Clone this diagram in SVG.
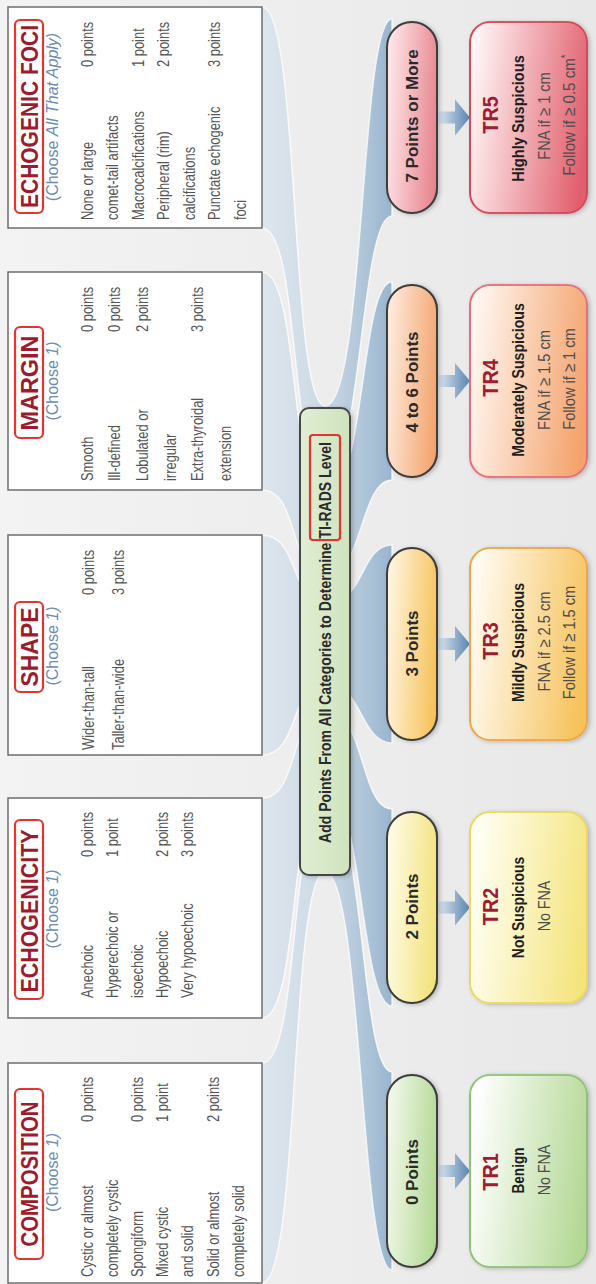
<svg xmlns="http://www.w3.org/2000/svg" width="596" height="1284" viewBox="0 0 596 1284">
<defs>
<style>
.bx{fill:#ffffff;stroke:#6e6e6e;stroke-width:1.5}
.tr{fill:none;stroke:#e3342f;stroke-width:2.2}
.t{font-family:"Liberation Sans",Arial,sans-serif;font-weight:bold;font-size:23px;fill:#9c1c2e;text-anchor:middle}
.c{font-family:"Liberation Sans",Arial,sans-serif;font-size:16px;fill:#6a8db3;text-anchor:middle}
.b{font-family:"Liberation Sans",Arial,sans-serif;font-size:17px;fill:#555555}
.pill{stroke:#3d3d3d;stroke-width:2}
.pt{font-family:"Liberation Sans",Arial,sans-serif;font-weight:bold;font-size:17px;fill:#2a2a2a;text-anchor:middle}
.tt{font-family:"Liberation Sans",Arial,sans-serif;font-weight:bold;font-size:22px;fill:#a01c30;text-anchor:middle}
.tb{font-family:"Liberation Sans",Arial,sans-serif;font-weight:bold;font-size:17px;fill:#1e1e1e;text-anchor:middle}
.tn{font-family:"Liberation Sans",Arial,sans-serif;font-size:17px;fill:#4d4d4d;text-anchor:middle}
.rib{fill:url(#gR);stroke:#ffffff;stroke-opacity:0.75;stroke-width:1.5}
.arr{fill:url(#gA)}
</style>
<linearGradient id="bg" x1="0" y1="0" x2="0" y2="1">
<stop offset="0" stop-color="#f3f3f3"/><stop offset="1" stop-color="#e9e8e8"/>
</linearGradient>
<linearGradient id="gR" gradientUnits="userSpaceOnUse" x1="0" y1="190" x2="0" y2="392">
<stop offset="0" stop-color="#dde7ef" stop-opacity="0"/>
<stop offset="0.35" stop-color="#d3e0eb" stop-opacity="0.6"/>
<stop offset="0.65" stop-color="#bed1e2" stop-opacity="0.7"/>
<stop offset="1" stop-color="#8aabc9" stop-opacity="0.85"/>
</linearGradient>
<linearGradient id="gA" gradientUnits="userSpaceOnUse" x1="0" y1="438" x2="0" y2="470">
<stop offset="0" stop-color="#dbe5ee"/><stop offset="1" stop-color="#5a85b1"/>
</linearGradient>
<linearGradient id="gBar" x1="0" y1="0" x2="0" y2="1">
<stop offset="0" stop-color="#e0eed3"/><stop offset="1" stop-color="#cfe3bd"/>
</linearGradient>
<linearGradient id="p0" x1="0.6" y1="0" x2="0.4" y2="1"><stop offset="0" stop-color="#f1f8ea"/><stop offset="1" stop-color="#b3d893"/></linearGradient>
<linearGradient id="p2" x1="0.6" y1="0" x2="0.4" y2="1"><stop offset="0" stop-color="#fffbe6"/><stop offset="1" stop-color="#f2e27a"/></linearGradient>
<linearGradient id="p3" x1="0.6" y1="0" x2="0.4" y2="1"><stop offset="0" stop-color="#fff4e0"/><stop offset="1" stop-color="#f6c258"/></linearGradient>
<linearGradient id="p4" x1="0.6" y1="0" x2="0.4" y2="1"><stop offset="0" stop-color="#feeadd"/><stop offset="1" stop-color="#f3a46c"/></linearGradient>
<linearGradient id="p7" x1="0.6" y1="0" x2="0.4" y2="1"><stop offset="0" stop-color="#fde6e8"/><stop offset="1" stop-color="#e8848e"/></linearGradient>
<linearGradient id="r1" x1="0.6" y1="0" x2="0.4" y2="1"><stop offset="0" stop-color="#ffffff"/><stop offset="1" stop-color="#b3d894"/></linearGradient>
<linearGradient id="r2" x1="0.6" y1="0" x2="0.4" y2="1"><stop offset="0" stop-color="#fffff4"/><stop offset="1" stop-color="#f4e47c"/></linearGradient>
<linearGradient id="r3" x1="0.6" y1="0" x2="0.4" y2="1"><stop offset="0" stop-color="#fffbf2"/><stop offset="1" stop-color="#f6c25a"/></linearGradient>
<linearGradient id="r4" x1="0.6" y1="0" x2="0.4" y2="1"><stop offset="0" stop-color="#fff6f0"/><stop offset="1" stop-color="#f4a26b"/></linearGradient>
<linearGradient id="r5" x1="0.6" y1="0" x2="0.4" y2="1"><stop offset="0" stop-color="#fff4f4"/><stop offset="1" stop-color="#e15e6c"/></linearGradient>
<filter id="sh" x="-10%" y="-10%" width="120%" height="130%"><feDropShadow dx="-1" dy="2" stdDeviation="2" flood-color="#000" flood-opacity="0.22"/></filter>
</defs>
<g transform="translate(0,1284) rotate(-90)">
<rect x="0" y="0" width="1284" height="596" fill="url(#bg)"/>

<g id="connectors">
<path class="rib" d="M1,190 L221,190 L221,262 C221,300 480,290 480,325 C480,365 212,360 212,392 L14,392 C14,360 412,362 412,325 C412,290 1,300 1,262 Z"/>
<path class="rib" d="M266,190 L486,190 L486,262 C486,300 575,290 575,325 C575,365 475,360 475,392 L278,392 C278,360 500,362 500,325 C500,290 266,300 266,262 Z"/>
<path class="rib" d="M529,190 L749,190 L749,262 C749,300 680,290 680,325 C680,365 739,360 739,392 L541,392 C541,360 602,362 602,325 C602,290 529,300 529,262 Z"/>
<path class="rib" d="M794,190 L1012,190 L1012,262 C1012,300 785,290 785,325 C785,365 1002,360 1002,392 L804,392 C804,360 705,362 705,325 C705,290 794,300 794,262 Z"/>
<path class="rib" d="M1056,190 L1277,190 L1277,262 C1277,300 878,290 878,325 C878,365 1265,360 1265,392 L1068,392 C1068,360 808,362 808,325 C808,290 1056,300 1056,262 Z"/>
<path class="arr" d="M107,438 L119,438 L119,455 L131,455 L113,470 L95,455 L107,455 Z"/>
<path class="arr" d="M370.5,438 L382.5,438 L382.5,455 L394.5,455 L376.5,470 L358.5,455 L370.5,455 Z"/>
<path class="arr" d="M634,438 L646,438 L646,455 L658,455 L640,470 L622,455 L634,455 Z"/>
<path class="arr" d="M897,438 L909,438 L909,455 L921,455 L903,470 L885,455 L897,455 Z"/>
<path class="arr" d="M1160.5,438 L1172.5,438 L1172.5,455 L1184.5,455 L1166.5,470 L1148.5,455 L1160.5,455 Z"/>
</g>

<g id="composition">
<rect class="bx" x="1" y="8" width="220" height="254"/>
<rect class="tr" x="25" y="15" width="170" height="28" rx="5"/>
<text class="t" x="110" y="38" textLength="145" lengthAdjust="spacingAndGlyphs">COMPOSITION</text>
<text class="c" x="111.5" y="58.3">(Choose <tspan font-style="italic">1)</tspan></text>
<text class="b" transform="translate(7,92.5) scale(.76,1)">Cystic or almost</text>
<text class="b" transform="translate(7,117.7) scale(.76,1)">completely cystic</text>
<text class="b" transform="translate(7,142.9) scale(.76,1)">Spongiform</text>
<text class="b" transform="translate(7,168.1) scale(.76,1)">Mixed cystic</text>
<text class="b" transform="translate(7,193.3) scale(.76,1)">and solid</text>
<text class="b" transform="translate(7,218.5) scale(.76,1)">Solid or almost</text>
<text class="b" transform="translate(7,243.7) scale(.76,1)">completely solid</text>
<text class="b" transform="translate(162,92.5) scale(.76,1)">0 points</text>
<text class="b" transform="translate(162,142.9) scale(.76,1)">0 points</text>
<text class="b" transform="translate(162,168.1) scale(.76,1)">1 point</text>
<text class="b" transform="translate(162,218.5) scale(.76,1)">2 points</text>
</g>

<g id="echogenicity">
<rect class="bx" x="266" y="8" width="220" height="254"/>
<rect class="tr" x="285" y="15" width="179" height="28" rx="5"/>
<text class="t" x="373" y="38" textLength="163" lengthAdjust="spacingAndGlyphs">ECHOGENICITY</text>
<text class="c" x="375" y="58.3">(Choose <tspan font-style="italic">1)</tspan></text>
<text class="b" transform="translate(286,92.5) scale(.76,1)">Anechoic</text>
<text class="b" transform="translate(286,117.7) scale(.76,1)">Hyperechoic or</text>
<text class="b" transform="translate(286,142.9) scale(.76,1)">isoechoic</text>
<text class="b" transform="translate(286,168.1) scale(.76,1)">Hypoechoic</text>
<text class="b" transform="translate(286,193.3) scale(.76,1)">Very hypoechoic</text>
<text class="b" transform="translate(427,92.5) scale(.76,1)">0 points</text>
<text class="b" transform="translate(427,117.7) scale(.76,1)">1 point</text>
<text class="b" transform="translate(427,168.1) scale(.76,1)">2 points</text>
<text class="b" transform="translate(427,193.3) scale(.76,1)">3 points</text>
</g>

<g id="shape">
<rect class="bx" x="529" y="8" width="220" height="254"/>
<rect class="tr" x="592" y="15" width="90" height="28" rx="5"/>
<text class="t" x="637" y="38" textLength="79" lengthAdjust="spacingAndGlyphs">SHAPE</text>
<text class="c" x="638" y="58.3">(Choose <tspan font-style="italic">1)</tspan></text>
<text class="b" transform="translate(534,94) scale(.76,1)">Wider-than-tall</text>
<text class="b" transform="translate(534,124) scale(.76,1)">Taller-than-wide</text>
<text class="b" transform="translate(689,94) scale(.76,1)">0 points</text>
<text class="b" transform="translate(689,124) scale(.76,1)">3 points</text>
</g>

<g id="margin">
<rect class="bx" x="794" y="8" width="218" height="254"/>
<rect class="tr" x="846" y="15" width="111" height="28" rx="5"/>
<text class="t" x="901" y="38" textLength="95" lengthAdjust="spacingAndGlyphs">MARGIN</text>
<text class="c" x="903" y="58.3">(Choose <tspan font-style="italic">1)</tspan></text>
<text class="b" transform="translate(803,92.5) scale(.76,1)">Smooth</text>
<text class="b" transform="translate(803,120) scale(.76,1)">Ill-defined</text>
<text class="b" transform="translate(803,148) scale(.76,1)">Lobulated or</text>
<text class="b" transform="translate(803,175.5) scale(.76,1)">irregular</text>
<text class="b" transform="translate(803,203) scale(.76,1)">Extra-thyroidal</text>
<text class="b" transform="translate(803,230.5) scale(.76,1)">extension</text>
<text class="b" transform="translate(952,92.5) scale(.76,1)">0 points</text>
<text class="b" transform="translate(952,120) scale(.76,1)">0 points</text>
<text class="b" transform="translate(952,148) scale(.76,1)">2 points</text>
<text class="b" transform="translate(952,203) scale(.76,1)">3 points</text>
</g>

<g id="echogenic-foci">
<rect class="bx" x="1056" y="8" width="221" height="254"/>
<rect class="tr" x="1071" y="15" width="193" height="28" rx="5"/>
<text class="t" x="1167.5" y="38" textLength="183" lengthAdjust="spacingAndGlyphs">ECHOGENIC FOCI</text>
<text class="c" x="1167" y="58.3">(Choose <tspan font-style="italic">All That Apply)</tspan></text>
<text class="b" transform="translate(1064,92.5) scale(.76,1)">None or large</text>
<text class="b" transform="translate(1064,118) scale(.76,1)">comet-tail artifacts</text>
<text class="b" transform="translate(1064,143.5) scale(.76,1)">Macrocalcifications</text>
<text class="b" transform="translate(1064,169) scale(.76,1)">Peripheral (rim)</text>
<text class="b" transform="translate(1064,194.5) scale(.76,1)">calcifications</text>
<text class="b" transform="translate(1064,220) scale(.76,1)">Punctate echogenic</text>
<text class="b" transform="translate(1064,245.5) scale(.76,1)">foci</text>
<text class="b" transform="translate(1217,92.5) scale(.76,1)">0 points</text>
<text class="b" transform="translate(1217,143.5) scale(.76,1)">1 point</text>
<text class="b" transform="translate(1217,169) scale(.76,1)">2 points</text>
<text class="b" transform="translate(1217,220) scale(.76,1)">3 points</text>
</g>

<g id="sum-bar">
<rect x="409" y="300" width="467" height="50" rx="9" fill="url(#gBar)" stroke="#474747" stroke-width="2" filter="url(#sh)"/>
<rect class="tr" x="744" y="310" width="105" height="30" rx="3"/>
<text class="pt" x="641.5" y="331" textLength="401" lengthAdjust="spacingAndGlyphs">Add Points From All Categories to Determine TI-RADS Level</text>
</g>

<g id="pill-0">
<rect class="pill" x="17" y="387" width="192" height="50" rx="25" fill="url(#p0)" filter="url(#sh)"/>
<text class="pt" x="112" y="418">0 Points</text>
</g>
<g id="pill-2">
<rect class="pill" x="281" y="387" width="191" height="50" rx="25" fill="url(#p2)" filter="url(#sh)"/>
<text class="pt" x="377.5" y="418">2 Points</text>
</g>
<g id="pill-3">
<rect class="pill" x="544" y="387" width="192" height="50" rx="25" fill="url(#p3)" filter="url(#sh)"/>
<text class="pt" x="640.5" y="418">3 Points</text>
</g>
<g id="pill-4-6">
<rect class="pill" x="807" y="387" width="192" height="50" rx="25" fill="url(#p4)" filter="url(#sh)"/>
<text class="pt" x="902" y="418">4 to 6 Points</text>
</g>
<g id="pill-7">
<rect class="pill" x="1071" y="387" width="191" height="50" rx="25" fill="url(#p7)" filter="url(#sh)"/>
<text class="pt" x="1168" y="418">7 Points or More</text>
</g>

<g id="tr1">
<rect x="17" y="470" width="192" height="117" rx="20" fill="url(#r1)" stroke="#8fc279" stroke-width="1.8" filter="url(#sh)"/>
<text class="tt" transform="translate(112,498) scale(.9,1)">TR1</text>
<text class="tb" transform="translate(113.5,524) scale(.8,1)">Benign</text>
<text class="tn" transform="translate(114,550) scale(.84,1)">No FNA</text>
</g>
<g id="tr2">
<rect x="281" y="470" width="191" height="117" rx="20" fill="url(#r2)" stroke="#ecd85e" stroke-width="1.8" filter="url(#sh)"/>
<text class="tt" transform="translate(377.5,498) scale(.9,1)">TR2</text>
<text class="tb" transform="translate(376.5,524) scale(.82,1)">Not Suspicious</text>
<text class="tn" transform="translate(378,550) scale(.84,1)">No FNA</text>
</g>
<g id="tr3">
<rect x="544" y="470" width="192" height="117" rx="20" fill="url(#r3)" stroke="#f0a54a" stroke-width="1.8" filter="url(#sh)"/>
<text class="tt" transform="translate(643,498) scale(.9,1)">TR3</text>
<text class="tb" transform="translate(641.5,524) scale(.83,1)">Mildly Suspicious</text>
<text class="tn" transform="translate(642.5,550) scale(.86,1)">FNA if ≥ 2.5 cm</text>
<text class="tn" transform="translate(641.5,575) scale(.86,1)">Follow if ≥ 1.5 cm</text>
</g>
<g id="tr4">
<rect x="807" y="470" width="192" height="117" rx="20" fill="url(#r4)" stroke="#e66e7a" stroke-width="1.8" filter="url(#sh)"/>
<text class="tt" transform="translate(906,498) scale(.9,1)">TR4</text>
<text class="tb" transform="translate(904,524) scale(.83,1)">Moderately Suspicious</text>
<text class="tn" transform="translate(904,550) scale(.86,1)">FNA if ≥ 1.5 cm</text>
<text class="tn" transform="translate(905,575) scale(.86,1)">Follow if ≥ 1 cm</text>
</g>
<g id="tr5">
<rect x="1071" y="470" width="191" height="117" rx="20" fill="url(#r5)" stroke="#d2495a" stroke-width="1.8" filter="url(#sh)"/>
<text class="tt" transform="translate(1169,498) scale(.9,1)">TR5</text>
<text class="tb" transform="translate(1165.5,524) scale(.86,1)">Highly Suspicious</text>
<text class="tn" transform="translate(1168,550) scale(.86,1)">FNA if ≥ 1 cm</text>
<text class="tn" transform="translate(1169,575) scale(.89,1)">Follow if ≥ 0.5 cm<tspan dy="-6" font-size="11px">*</tspan></text>
</g>
</g>
</svg>
